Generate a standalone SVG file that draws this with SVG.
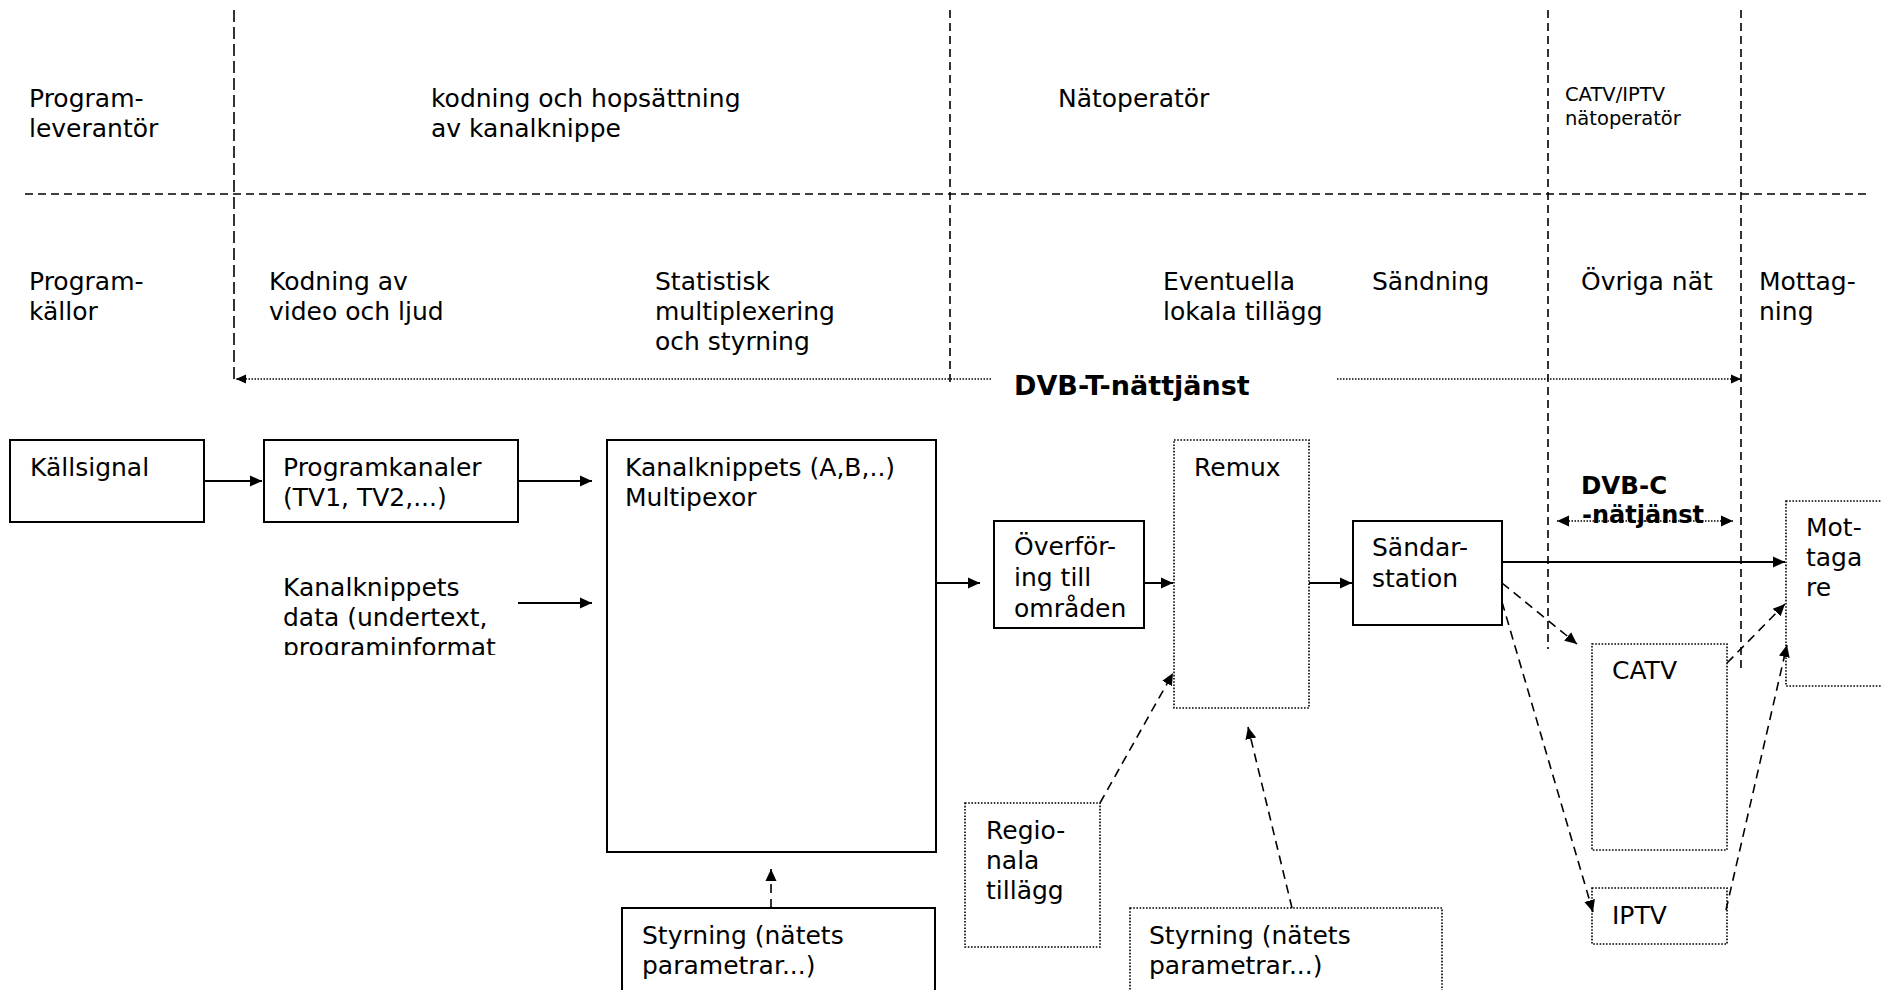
<svg xmlns="http://www.w3.org/2000/svg" width="1881" height="990" viewBox="0 0 1881 990">
<defs>
<style>
text{font-family:"DejaVu Sans",Verdana,sans-serif;font-size:25px;fill:#000}
.b{font-weight:bold}
.sm{font-size:19.5px}
.box{fill:#fff;stroke:#000;stroke-width:2}
.dbox{fill:#fff;stroke:#000;stroke-width:1.6;stroke-dasharray:1.6 1.6}
.sep{fill:none;stroke:#000;stroke-width:1.6;stroke-dasharray:8 5}
.sepl{fill:none;stroke:#000;stroke-width:1.6;stroke-dasharray:12 5}
.arr{fill:none;stroke:#000;stroke-width:2}
.darr{fill:none;stroke:#000;stroke-width:1.6;stroke-dasharray:9 6}
.dot{fill:none;stroke:#000;stroke-width:1.3;stroke-dasharray:1.5 1.5}
</style>
<marker id="ah" viewBox="0 0 12 12" refX="12" refY="6" markerWidth="12" markerHeight="12" orient="auto" markerUnits="userSpaceOnUse"><path d="M0,0.5 L12,6 L0,11.5 z" fill="#000"/></marker>
<marker id="ahs" viewBox="0 0 10 10" refX="10" refY="5" markerWidth="10" markerHeight="10" orient="auto" markerUnits="userSpaceOnUse"><path d="M0,0.5 L10,5 L0,9.5 z" fill="#000"/></marker>
<clipPath id="clipdata"><rect x="270" y="560" width="260" height="95"/></clipPath>
</defs>
<rect width="1881" height="990" fill="#fff"/>

<g id="separators">
<path class="sep" d="M25,194 H1866"/>
<path class="sepl" d="M234,10 V383"/>
<path class="sep" d="M950,10 V383"/>
<path class="sep" d="M1548,10 V649"/>
<path class="sep" d="M1741,10 V673"/>
</g>

<g id="headers">
<text x="29" y="107">Program-</text>
<text x="29" y="137">leverantör</text>
<text x="431" y="107">kodning och hopsättning</text>
<text x="431" y="137">av kanalknippe</text>
<text x="1058" y="107">Nätoperatör</text>
<text class="sm" x="1565" y="101">CATV/IPTV</text>
<text class="sm" x="1565" y="125">nätoperatör</text>
<text x="29" y="290">Program-</text>
<text x="29" y="320">källor</text>
<text x="269" y="290">Kodning av</text>
<text x="269" y="320">video och ljud</text>
<text x="655" y="290">Statistisk</text>
<text x="655" y="320">multiplexering</text>
<text x="655" y="350">och styrning</text>
<text x="1163" y="290">Eventuella</text>
<text x="1163" y="320">lokala tillägg</text>
<text x="1372" y="290">Sändning</text>
<text x="1581" y="290">Övriga nät</text>
<text x="1759" y="290">Mottag-</text>
<text x="1759" y="320">ning</text>
</g>

<g id="dvbt">
<path class="dot" d="M991,379 H236" marker-end="url(#ahs)"/>
<path class="dot" d="M1337,379 H1741" marker-end="url(#ahs)"/>
<text class="b" x="1014" y="395" style="font-size:27px">DVB-T-nättjänst</text>
</g>

<g id="dvbc">
<path class="dot" d="M1645,521 H1557" marker-end="url(#ah)"/>
<path class="dot" d="M1645,521 H1733" marker-end="url(#ah)"/>
<text class="b" x="1581" y="494" style="font-size:24.5px">DVB-C</text>
<text class="b" x="1582" y="523" style="font-size:24px">-nätjänst</text>
</g>

<g id="n-kallsignal">
<rect class="box" x="10" y="440" width="194" height="82"/>
<text x="30" y="476">Källsignal</text>
</g>
<g id="n-programkanaler">
<rect class="box" x="264" y="440" width="254" height="82"/>
<text x="283" y="476">Programkanaler</text>
<text x="283" y="506">(TV1, TV2,...)</text>
</g>
<g id="n-data" clip-path="url(#clipdata)">
<text x="283" y="596">Kanalknippets</text>
<text x="283" y="626">data (undertext,</text>
<text x="283" y="656">programinformat</text>
</g>
<g id="n-mux">
<rect class="box" x="607" y="440" width="329" height="412"/>
<text x="625" y="476">Kanalknippets (A,B,..)</text>
<text x="625" y="506">Multipexor</text>
</g>
<g id="n-overforing">
<rect class="box" x="994" y="521" width="150" height="107"/>
<text x="1014" y="555">Överför-</text>
<text x="1014" y="586">ing till</text>
<text x="1014" y="617">områden</text>
</g>
<g id="n-remux">
<rect class="dbox" x="1174" y="440" width="135" height="268"/>
<text x="1194" y="476">Remux</text>
</g>
<g id="n-sandar">
<rect class="box" x="1353" y="521" width="149" height="104"/>
<text x="1372" y="556">Sändar-</text>
<text x="1372" y="587">station</text>
</g>
<g id="n-mottagare">
<rect class="dbox" x="1786" y="501" width="110" height="185"/>
<text x="1806" y="536">Mot-</text>
<text x="1806" y="566">taga</text>
<text x="1806" y="596">re</text>
</g>
<g id="n-catv">
<rect class="dbox" x="1592" y="644" width="135" height="206"/>
<text x="1612" y="679">CATV</text>
</g>
<g id="n-iptv">
<rect class="dbox" x="1592" y="888" width="135" height="56"/>
<text x="1612" y="924">IPTV</text>
</g>
<g id="n-regionala">
<rect class="dbox" x="965" y="803" width="135" height="144"/>
<text x="986" y="839">Regio-</text>
<text x="986" y="869">nala</text>
<text x="986" y="899">tillägg</text>
</g>
<g id="n-styrning1">
<rect class="box" x="622" y="908" width="313" height="100"/>
<text x="642" y="944">Styrning (nätets</text>
<text x="642" y="974">parametrar...)</text>
</g>
<g id="n-styrning2">
<rect class="dbox" x="1130" y="908" width="312" height="100"/>
<text x="1149" y="944">Styrning (nätets</text>
<text x="1149" y="974">parametrar...)</text>
</g>

<g id="connectors">
<path class="arr" d="M204,481 H262" marker-end="url(#ah)"/>
<path class="arr" d="M518,481 H592" marker-end="url(#ah)"/>
<path class="arr" d="M518,603 H592" marker-end="url(#ah)"/>
<path class="arr" d="M936,583 H980" marker-end="url(#ah)"/>
<path class="arr" d="M1144,583 H1173" marker-end="url(#ah)"/>
<path class="arr" d="M1309,583 H1352" marker-end="url(#ah)"/>
<path class="arr" d="M1502,562 H1785" marker-end="url(#ah)"/>
<path class="darr" d="M1502,583 L1577,644" marker-end="url(#ah)"/>
<path class="darr" d="M1502,602 L1593,912" marker-end="url(#ah)"/>
<path class="darr" d="M1727,663 L1785,604" marker-end="url(#ah)"/>
<path class="darr" d="M1726,910 L1787,645" marker-end="url(#ah)"/>
<path class="darr" d="M1100,803 L1173,673" marker-end="url(#ah)"/>
<path class="darr" d="M1292,908 L1248,727" marker-end="url(#ah)"/>
<path class="darr" d="M771,908 V869" marker-end="url(#ah)"/>
</g>
</svg>
